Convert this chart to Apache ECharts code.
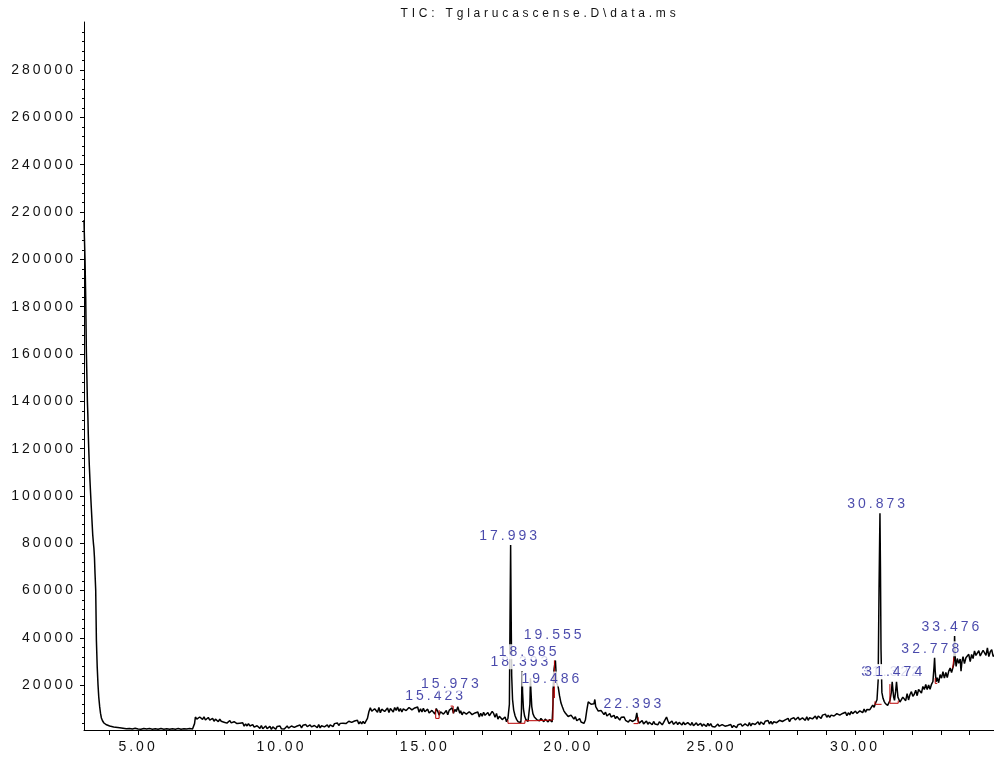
<!DOCTYPE html>
<html><head><meta charset="utf-8">
<script src="https://cdn.jsdelivr.net/npm/echarts@6/dist/echarts.min.js"></script>
<style>html,body{margin:0;padding:0;background:#fff}#c{width:994px;height:782px}</style>
</head><body><div id="c"></div>
<script>
// ---------- data ----------
const titleText = "TIC: Tglarucascense.D\\data.ms";
const xLabelValues = [5, 10, 15, 20, 25, 30];
const xTickValues = [4,5,6,7,8,9,10,11,12,13,14,15,16,17,18,19,20,21,22,23,24,25,26,27,28,29,30,31,32,33,34];
const yLabelValues = [20000,40000,60000,80000,100000,120000,140000,160000,180000,200000,220000,240000,260000,280000];
const yMinorStep = 4000;

// retention time (min), abundance
const tic = [
[3.115,216600],[3.13,209000],[3.15,200100],[3.174,184100],[3.19,168000],[3.198,160500],[3.215,151000],[3.233,140100],[3.25,134000],[3.265,126000],[3.279,120300],[3.30,113000],[3.325,106000],[3.349,100000],[3.37,95000],[3.40,88000],[3.42,83500],[3.443,80100],[3.46,78000],[3.48,74000],[3.50,67000],[3.523,60300],[3.547,39100],[3.575,28000],[3.603,20400],[3.63,15000],[3.662,10950],[3.69,8200],[3.722,6170],[3.76,5000],[3.81,4060],[3.9,3300],[4.01,2790],[4.15,2400],[4.36,2070],[4.59,1650],
[4.7,1750],[4.8,1500],[4.9,1800],[5.0,1550],[5.1,1450],[5.2,1750],[5.3,1500],[5.4,1700],[5.5,1450],[5.6,1650],[5.7,1400],[5.8,1700],[5.9,1450],[6.0,1650],[6.1,1400],[6.2,1650],[6.3,1450],[6.4,1700],[6.5,1450],[6.6,1650],[6.7,1500],[6.8,1700],[6.9,1550],[6.95,1700],
[6.97,3800],[7.00,6600],[7.05,5700],[7.10,5400],[7.15,6600],[7.20,6300],[7.25,5600],[7.30,6700],[7.35,5300],[7.40,6100],[7.45,6400],[7.50,5300],[7.55,5500],[7.60,6000],[7.65,4800],[7.70,5700],[7.75,5400],[7.80,4600],[7.85,5700],[7.90,4800],[7.95,5600],
[8.00,4400],[8.05,5100],[8.10,4000],[8.15,4700],[8.20,5100],[8.25,4100],[8.30,3700],[8.35,4600],[8.40,4800],[8.45,3800],[8.50,3300],[8.55,4000],[8.60,3600],[8.65,4200],[8.70,2700],[8.75,3700],[8.80,2800],[8.85,3800],[8.90,2800],[8.95,2400],
[9.00,3400],[9.05,2300],[9.10,1800],[9.15,2900],[9.20,2500],[9.25,1800],[9.30,3000],[9.35,1600],[9.40,2400],[9.45,2800],[9.50,1700],[9.55,1900],[9.60,2600],[9.65,1400],[9.70,2400],[9.75,2100],[9.80,1400],[9.85,2600],[9.90,1800],[9.95,2800],
[10.00,1600],[10.05,2400],[10.10,1500],[10.15,2300],[10.20,2800],[10.25,1900],[10.30,1700],[10.35,2800],[10.40,3100],[10.45,2200],[10.50,1900],[10.55,2800],[10.60,2500],[10.65,3200],[10.70,2000],[10.75,3100],[10.80,2300],[10.85,3400],[10.90,2500],[10.95,2200],
[11.00,3300],[11.05,2400],[11.10,1900],[11.15,3000],[11.20,2700],[11.25,2100],[11.30,3400],[11.35,2000],[11.40,2900],[11.45,3400],[11.50,2400],[11.55,2700],[11.60,3300],[11.65,2200],[11.70,3300],[11.75,3100],[11.80,2500],[11.85,3800],[11.90,3100],[11.95,4100],
[12.00,3000],[12.05,3900],[12.10,3100],[12.15,4000],[12.20,4600],[12.25,3800],[12.30,3600],[12.35,4800],[12.40,5200],[12.45,4300],[12.50,4000],[12.55,4900],[12.60,4600],[12.65,5200],[12.70,3700],[12.75,4600],[12.80,3700],[12.85,4700],[12.90,3800],[12.95,3400],
[13.00,6000],[13.05,8800],[13.10,10500],[13.15,9000],[13.20,8300],[13.25,10100],[13.30,9700],[13.35,8600],[13.40,10600],[13.45,8400],[13.50,9900],[13.55,10500],[13.60,8900],[13.65,9400],[13.70,10400],[13.75,8500],[13.80,10200],[13.85,9800],[13.90,8700],[13.95,10600],
[14.00,9400],[14.05,10800],[14.10,9000],[14.15,10200],[14.20,8700],[14.25,10000],[14.30,10700],[14.35,9300],[14.40,8900],[14.45,10600],[14.50,11000],[14.55,9600],[14.60,9100],[14.65,10400],[14.70,9900],[14.75,10800],[14.80,8600],[14.85,10100],[14.90,8700],[14.95,10300],
[15.00,8800],[15.05,8100],[15.10,9900],[15.15,8300],[15.20,7600],[15.25,9400],[15.30,8900],[15.35,7800],[15.40,10200],[15.423,11000],[15.45,9000],[15.50,7400],[15.55,8800],[15.60,9500],[15.65,7800],[15.70,8300],[15.75,9300],[15.80,7500],[15.85,9400],[15.90,9100],[15.95,10500],[15.973,11300],
[16.00,8200],[16.05,9800],[16.10,8900],[16.15,10900],[16.18,11300],[16.22,8200],[16.25,9200],[16.30,7500],[16.35,8700],[16.40,9300],[16.45,7800],[16.50,7200],[16.55,8800],[16.60,9100],[16.65,7600],[16.70,7000],[16.75,8300],[16.80,7700],[16.85,8700],[16.90,6600],[16.95,8200],
[17.00,6900],[17.05,8600],[17.10,7300],[17.15,6700],[17.20,8500],[17.25,7100],[17.30,6800],[17.35,9000],[17.40,8100],[17.45,6500],[17.50,8100],[17.55,5700],[17.60,6900],[17.65,7400],[17.70,5500],[17.75,5800],[17.80,6600],[17.85,4600],[17.90,6100],[17.93,5300],
[17.95,12000],[17.97,45000],[17.993,79300],[18.01,52000],[18.03,24000],[18.06,14000],[18.10,9500],[18.15,7000],[18.20,5600],[18.25,4600],[18.30,4200],[18.35,4300],
[18.37,9000],[18.393,26000],[18.41,17000],[18.44,10000],[18.48,7000],[18.52,5600],[18.56,5000],[18.60,4700],[18.64,5200],
[18.665,12000],[18.685,23000],[18.70,18000],[18.73,11000],[18.77,8000],[18.82,6600],[18.87,5800],[18.92,5300],[18.97,6000],
[19.00,5000],[19.05,6000],[19.10,5300],[19.15,4600],[19.20,5700],[19.25,5200],[19.30,4500],[19.35,5500],[19.40,5000],[19.44,4500],
[19.47,12000],[19.486,24000],[19.51,27000],[19.535,29000],[19.555,30500],[19.575,26000],[19.60,21000],[19.65,19400],[19.70,15500],[19.75,12500],[19.80,10800],[19.85,9200],[19.90,8300],
[19.95,7900],[20.00,6800],[20.05,6500],[20.10,7400],[20.15,6600],[20.20,5700],[20.25,6700],[20.30,5000],[20.35,5600],[20.40,5900],[20.45,4500],[20.50,4700],[20.55,3900],[20.60,5300],
[20.65,9500],[20.70,13000],[20.75,13300],[20.80,12000],[20.85,11500],[20.90,12200],[20.93,14000],[20.96,11000],
[21.00,10400],[21.05,9100],[21.10,8300],[21.15,9300],[21.20,8700],[21.25,7600],[21.30,8700],[21.35,7000],[21.40,7800],[21.45,8100],[21.50,6600],[21.55,6900],[21.60,7300],[21.65,5900],[21.70,6800],[21.75,6400],[21.80,5300],[21.85,6500],[21.90,5700],[21.95,6600],
[22.00,5200],[22.05,5500],[22.10,4400],[22.15,5400],[22.20,5900],[22.25,4700],[22.30,4300],[22.35,5500],[22.393,8300],
[22.43,5300],[22.48,4000],[22.53,4500],[22.58,5100],[22.63,3700],[22.68,4300],[22.73,4900],[22.78,3500],[22.83,4400],[22.88,3900],[22.93,3300],[22.98,4700],
[23.03,3600],[23.08,4200],[23.13,3300],[23.18,4600],[23.23,3900],[23.28,3300],[23.33,4300],[23.38,5000],[23.43,6600],[23.47,5200],[23.52,3800],[23.57,4500],[23.62,4900],[23.67,3500],[23.72,4000],[23.77,4600],[23.82,3400],[23.87,4300],[23.92,3700],[23.97,3200],
[24.02,4400],[24.07,3400],[24.12,3000],[24.17,4200],[24.22,3800],[24.27,3100],[24.32,4300],[24.37,2900],[24.42,3700],[24.47,4100],[24.52,3100],[24.57,3400],[24.62,3900],[24.67,2700],[24.72,3600],[24.77,3300],[24.82,2600],[24.87,3900],[24.92,2800],[24.97,3800],
[25.02,2600],[25.07,3300],[25.12,2400],[25.17,3200],[25.22,3600],[25.27,2700],[25.32,2300],[25.37,3400],[25.42,3700],[25.47,2700],[25.52,2200],[25.57,3000],[25.62,2600],[25.67,3400],[25.72,2100],[25.77,3000],[25.82,2700],[25.87,2100],[25.92,3300],[25.97,2600],
[26.02,3700],[26.07,2700],[26.12,2300],[26.17,3700],[26.22,3500],[26.27,2800],[26.32,4300],[26.37,2800],[26.42,3900],[26.47,4500],[26.52,3400],[26.57,3800],[26.62,4600],[26.67,3300],[26.72,4500],[26.77,4200],[26.82,3500],[26.87,4800],[26.92,4000],[26.97,5100],
[27.02,3700],[27.07,4700],[27.12,3600],[27.17,4600],[27.22,5100],[27.27,4200],[27.32,4000],[27.37,5200],[27.42,5700],[27.47,4700],[27.52,4400],[27.57,5400],[27.62,5100],[27.67,6000],[27.72,4600],[27.77,5800],[27.82,5000],[27.87,6300],[27.92,5400],[27.97,5000],
[28.02,6500],[28.07,5400],[28.12,4900],[28.17,6200],[28.22,6000],[28.27,5200],[28.32,6700],[28.37,5200],[28.42,6300],[28.47,6900],[28.52,5800],[28.57,6200],[28.62,7000],[28.67,5700],[28.72,7000],[28.77,6700],[28.82,6000],[28.87,7400],[28.92,6600],[28.97,7800],
[29.02,6500],[29.07,7400],[29.12,6400],[29.17,7400],[29.22,7900],[29.27,7000],[29.32,6700],[29.37,8000],[29.42,8400],[29.47,7400],[29.52,7000],[29.57,8100],[29.62,7700],[29.67,8600],[29.72,7100],[29.77,8400],[29.82,7500],[29.87,8900],[29.92,8000],[29.97,7600],
[30.02,9100],[30.07,8100],[30.12,7800],[30.17,9200],[30.22,9000],[30.27,8400],[30.32,10000],[30.37,8600],[30.42,9800],[30.47,10600],[30.52,9700],[30.57,10400],[30.62,11600],[30.67,10700],[30.72,12500],[30.77,13900],
[30.81,22000],[30.84,60000],[30.873,92700],[30.89,70000],[30.91,35000],[30.94,17000],[30.98,14500],
[31.02,13200],[31.06,12300],[31.10,11800],[31.14,11500],[31.18,11900],[31.22,13500],[31.27,17000],[31.30,21500],[31.32,21800],[31.35,15000],[31.38,13600],[31.42,17500],[31.45,21500],[31.474,21000],[31.50,15000],
[31.53,14800],[31.57,12900],[31.62,12300],[31.67,15000],[31.72,14700],[31.77,13500],[31.82,16500],[31.87,13800],[31.92,16100],[31.97,17300],
[32.02,15300],[32.07,16200],[32.12,17900],[32.17,15600],[32.22,18200],[32.27,17900],[32.32,16700],[32.37,19500],[32.42,18200],[32.47,20400],[32.52,18200],[32.57,20100],[32.62,18300],[32.67,20400],[32.72,21600],
[32.76,28000],[32.778,31600],[32.80,26000],[32.83,21500],[32.87,23200],[32.92,21100],[32.97,24500],
[33.02,23000],[33.07,25700],[33.12,23000],[33.17,25400],[33.22,23300],[33.27,25900],[33.32,27300],[33.37,25400],[33.42,25100],[33.45,29000],[33.476,40800],[33.50,31000],[33.53,28000],[33.57,31300],[33.62,29300],[33.67,31100],[33.70,26000],[33.73,29800],[33.77,32100],[33.82,29200],[33.87,31600],[33.92,31000],[33.97,33100],
[34.02,30000],[34.07,33000],[34.12,31300],[34.17,34500],[34.22,32600],[34.27,32000],[34.32,34600],[34.37,32400],[34.42,31600],[34.47,34800],[34.52,34300],[34.57,32600],[34.62,35800],[34.67,32100],[34.72,34200],[34.77,35100],[34.82,32200],[34.87,32800]
];

// integration baselines (red), each a polyline in (time, abundance)
const baselines = [
  [[15.38,10000],[15.38,6000],[15.50,6000],[15.50,9500]],
  [[15.90,11200],[15.99,11200],[15.99,8100]],
  [[17.90,5300],[17.90,3930],[18.49,3930],[18.49,5030],[18.89,5030],[18.89,5320],[19.47,5320],[19.47,18800]],
  [[19.52,14600],[19.52,30500]],
  [[22.28,3800],[22.44,3800],[22.44,6500]],
  [[30.70,13200],[30.70,11950],[30.93,11950]],
  [[31.22,20500],[31.22,12400],[31.51,12400],[31.51,13500]],
  [[32.80,23000],[32.80,20800],[32.87,20800]],
  [[33.41,27200],[33.45,27200],[33.45,31800]]
];

// peak labels, in drawing order (later ones cover earlier ones)
const peakNames   = ["15.423","15.973","17.993","18.393","18.685","19.486","19.555","22.393","30.873","31.322","31.474","32.778","33.476"];
const labelAnchors = [[15.38,15260],[15.93,20540],[17.96,83210],[18.35,29960],[18.64,34190],[19.43,22650],[19.51,41120],[22.29,12090],[30.79,96480],[31.28,25740],[31.39,25740],[32.68,35460],[33.38,44750]];

// ---------- letter spacing for canvas text (by font size) ----------
const letterSpacingBySize = {'14px': '3px', '12px': '3.8px'};
(function(){
  const proto = CanvasRenderingContext2D.prototype;
  const fd = Object.getOwnPropertyDescriptor(proto, 'font');
  if (!fd || !('letterSpacing' in proto)) return;
  Object.defineProperty(proto, 'font', {
    configurable: true,
    get() { return fd.get.call(this); },
    set(v) {
      fd.set.call(this, v);
      const m = /(\d+(?:\.\d+)?px)/.exec(v);
      this.letterSpacing = (m && letterSpacingBySize[m[1]]) || '0px';
    }
  });
})();

// ---------- chart ----------
const FONT = 'Liberation Sans';
const yMinorValues = [];
for (let v = yMinorStep; v <= 300000; v += yMinorStep) if (v % 20000 !== 0) yMinorValues.push(v);

const chart = echarts.init(document.getElementById('c'), null, {renderer: 'canvas'});
const yRange = {min: 1100, max: 300300};
const xRange = {min: 3.115, max: 34.85};

chart.setOption({
  animation: false,
  backgroundColor: '#fff',
  graphic: [{
    type: 'text', x: 540, y: 14, z: 10,
    style: {text: titleText, fontSize: 12, fontFamily: FONT, fill: '#111', align: 'center', verticalAlign: 'middle'}
  }],
  grid: {left: 84, right: 0, top: 22, bottom: 52, containLabel: false, outerBoundsMode: 'none'},
  xAxis: [{
    type: 'value', min: xRange.min, max: xRange.max, position: 'bottom',
    axisLine: {show: true, onZero: false, lineStyle: {color: '#000', width: 1}},
    axisTick: {show: true, customValues: xTickValues, length: 5, lineStyle: {color: '#000'}},
    axisLabel: {show: true, customValues: xLabelValues, margin: 9, fontSize: 14, fontFamily: FONT, color: '#111',
      formatter: v => v.toFixed(2)},
    splitLine: {show: false}
  }],
  yAxis: [{
    type: 'value', min: yRange.min, max: yRange.max, position: 'left',
    axisLine: {show: true, onZero: false, lineStyle: {color: '#000', width: 1}},
    axisTick: {show: true, customValues: yLabelValues, length: 4, lineStyle: {color: '#000'}},
    axisLabel: {show: true, customValues: yLabelValues, margin: 8, fontSize: 14, fontFamily: FONT, color: '#111',
      formatter: v => String(v)},
    splitLine: {show: false}
  }, {
    type: 'value', min: yRange.min, max: yRange.max, position: 'left', offset: 0,
    axisLine: {show: false},
    axisTick: {show: true, customValues: yMinorValues, length: 2, lineStyle: {color: '#000'}},
    axisLabel: {show: false},
    splitLine: {show: false}
  }],
  series: [{
    type: 'line', name: 'TIC', data: tic, xAxisIndex: 0, yAxisIndex: 0,
    showSymbol: false, symbol: 'none', z: 2,
    lineStyle: {color: '#000', width: 1.5}
  }].concat(baselines.map((seg, i) => ({
    type: 'line', name: 'baseline' + i, data: seg, xAxisIndex: 0, yAxisIndex: 0,
    symbol: 'none', z: 3, lineStyle: {color: '#b80000', width: 1}
  }))).concat([{
    type: 'scatter', name: 'peaks', xAxisIndex: 0, yAxisIndex: 0, z: 5,
    symbolSize: 0, silent: true,
    data: peakNames.map((n, i) => ({name: n, value: labelAnchors[i]})),
    label: {show: true, position: 'inside', formatter: '{b}', fontSize: 14, fontFamily: FONT,
      color: '#1c1c96', backgroundColor: '#fff', padding: [0, 0, 1, 0], lineHeight: 14},
    labelLayout: {hideOverlap: false}
  }])
});
</script></body></html>
